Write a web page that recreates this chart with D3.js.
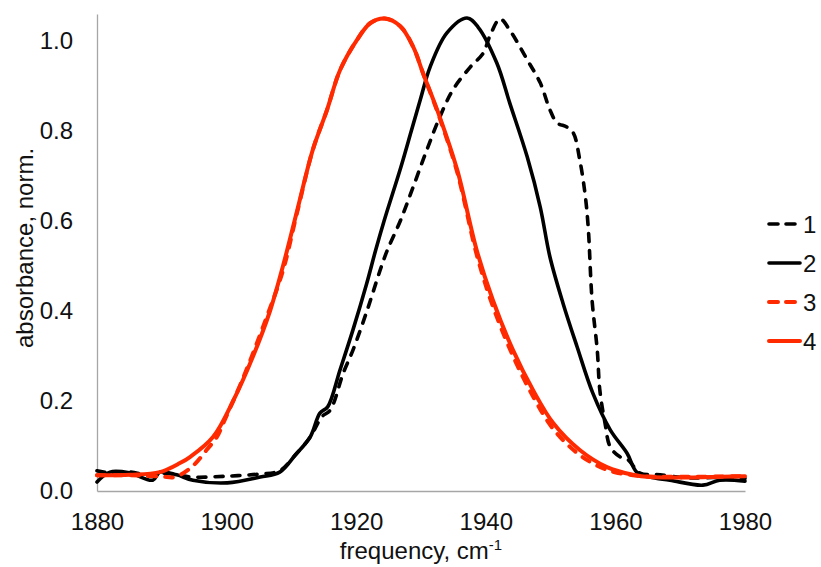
<!DOCTYPE html>
<html>
<head>
<meta charset="utf-8">
<script src="https://cdn.jsdelivr.net/npm/d3@7"></script>
<style>
  html, body { margin: 0; padding: 0; background: #fff; }
  svg { display: block; }
  text { font-family: "Liberation Sans", Arial, sans-serif; fill: #111; }
</style>
</head>
<body>
<svg id="chart" width="821" height="567"></svg>
<script>
// ---- data (frequency cm-1, normalized absorbance) ----
const series1 = [ // black dashed
  [1880,0.045],[1882,0.040],[1885.1,0.042],[1888.2,0.035],[1889.7,0.040],[1892.3,0.036],
  [1894.8,0.031],[1900.1,0.033],[1905.2,0.038],[1908.2,0.045],[1910.6,0.080],[1912.9,0.120],
  [1914.7,0.165],[1916.0,0.180],[1918.0,0.262],[1919.5,0.313],[1921.7,0.402],[1923.7,0.491],
  [1924.8,0.535],[1926.8,0.600],[1928.8,0.676],[1930.9,0.758],[1932.9,0.831],[1934.9,0.891],
  [1937.6,0.942],[1939.6,0.973],[1940.6,1.010],[1942.2,1.049],[1943.7,1.024],[1946.4,0.958],
  [1948.4,0.907],[1949.9,0.847],[1951.0,0.818],[1952.5,0.809],[1953.5,0.796],[1954.5,0.736],
  [1955.3,0.662],[1955.8,0.587],[1956.4,0.424],[1957.2,0.313],[1957.6,0.224],[1958.4,0.151],
  [1959.2,0.098],[1960.7,0.076],[1961.9,0.070],[1963.8,0.040],[1966.9,0.036],[1971.0,0.029],
  [1975.1,0.030],[1980,0.028]
];
const series2 = [ // black solid
  [1880,0.020],[1882,0.042],[1885.1,0.040],[1888.6,0.024],[1889.7,0.042],[1892.3,0.036],
  [1894.8,0.024],[1900.1,0.018],[1905.2,0.031],[1908.2,0.042],[1910.6,0.080],[1912.9,0.120],
  [1914.4,0.173],[1915.6,0.187],[1917.5,0.269],[1919.5,0.358],[1921.6,0.460],[1923.0,0.535],
  [1924.3,0.600],[1926.9,0.720],[1928.5,0.800],[1929.9,0.870],[1931.4,0.942],[1934.0,1.018],
  [1937.1,1.051],[1938.8,1.031],
  [1941.7,0.951],[1943.7,0.862],[1946.4,0.742],[1948.4,0.631],[1949.9,0.520],[1951.9,0.418],
  [1954.1,0.320],[1956.5,0.218],[1959.2,0.136],[1961.8,0.084],[1963.3,0.042],[1965.3,0.031],
  [1968.4,0.024],[1973.5,0.013],[1976.1,0.024],[1980,0.022]
];
const series3 = [ // red dashed
  [1880,0.035],[1885,0.035],[1890,0.032],[1892,0.031],[1894.6,0.053],[1896.9,0.091],
  [1898.5,0.120],[1899.5,0.151],[1902.6,0.253],[1906.2,0.387],[1908.7,0.490],[1910.9,0.620],
  [1913.3,0.758],[1915.5,0.847],[1917.5,0.935],[1920.1,1.002],[1922.2,1.040],[1924.4,1.050],
  [1926.8,1.033],[1928.8,0.987],[1930.3,0.929],[1932.9,0.828],[1935.6,0.708],[1938.6,0.525],
  [1941.1,0.410],[1944.2,0.300],[1947.3,0.210],[1950.4,0.138],[1954.5,0.080],[1958.7,0.047],
  [1962.7,0.035],[1965.3,0.032],[1980,0.033]
];
const series4 = [ // red solid
  [1880,0.035],[1885.1,0.036],[1889.7,0.042],[1892.8,0.062],[1894.4,0.076],[1897.9,0.120],
  [1901.0,0.200],[1904.1,0.300],[1906.7,0.400],[1908.7,0.500],[1910.9,0.624],[1913.3,0.758],
  [1915.5,0.847],[1917.5,0.935],[1920.1,1.002],[1922.2,1.040],[1924.4,1.050],[1926.8,1.033],
  [1928.8,0.987],[1930.3,0.929],[1932.9,0.831],[1935.6,0.713],[1938.6,0.535],[1941.1,0.424],
  [1944.2,0.313],[1947.3,0.224],[1950.4,0.151],[1954.5,0.091],[1958.7,0.053],[1962.7,0.036],
  [1965.3,0.031],[1980,0.033]
];
const seriesNames = ["1","2","3","4"];
const xTicks = [1880,1900,1920,1940,1960,1980];
const yTicks = [0,0.2,0.4,0.6,0.8,1.0];

const allSeries = [series1, series2, series3, series4];
const colors = ["#000000","#000000","#ff2a00","#ff2a00"];
const dashed = [true,false,true,false];
const widths = [3.6,3.6,4,4];

const svg = d3.select("#chart");
const mLeft = 97, mRight = 745, mTop = 14, mBottom = 491;

const x = d3.scaleLinear().domain([1880,1980]).range([mLeft,mRight]);
const y = d3.scaleLinear().domain([0,1.06]).range([mBottom,mTop]);

// axes
const gx = svg.append("g").attr("transform",`translate(0,${mBottom})`)
  .call(d3.axisBottom(x).tickValues(xTicks).tickFormat(d3.format("d")).tickSize(0).tickSizeOuter(0).tickPadding(22));
const gy = svg.append("g").attr("transform",`translate(${mLeft},0)`)
  .call(d3.axisLeft(y).tickValues(yTicks).tickFormat(d3.format(".1f")).tickSize(0).tickSizeOuter(0).tickPadding(24));
[gx,gy].forEach(g => {
  g.select(".domain").attr("stroke","#a6a6a6").attr("stroke-width",1.3);
  g.selectAll("text").attr("font-size",24).attr("fill","#111")
   .style("font-family",'"Liberation Sans", Arial, sans-serif');
});

// lines
const line = d3.line().x(d => x(d[0])).y(d => y(d[1])).curve(d3.curveCatmullRom.alpha(0.5));
allSeries.forEach((s,i) => {
  svg.append("path").datum(s)
    .attr("d", line)
    .attr("fill","none")
    .attr("stroke", colors[i])
    .attr("stroke-width", widths[i])
    .attr("stroke-linecap","round")
    .attr("stroke-linejoin","round")
    .attr("stroke-dasharray", dashed[i] ? "8,9" : null);
});

// axis titles
svg.append("text")
  .attr("x", 421).attr("y", 559)
  .attr("text-anchor","middle").attr("font-size",24)
  .html('frequency, cm<tspan font-size="15" dy="-9">-1</tspan>');
svg.append("text")
  .attr("transform","translate(33,248) rotate(-90)")
  .attr("text-anchor","middle").attr("font-size",24)
  .text("absorbance, norm.");

// legend
const lg = svg.append("g");
seriesNames.forEach((n,i) => {
  const yy = 224 + i*39;
  lg.append("line")
    .attr("x1",769).attr("x2",800).attr("y1",yy).attr("y2",yy)
    .attr("stroke",colors[i]).attr("stroke-width",widths[i])
    .attr("stroke-linecap","round")
    .attr("stroke-dasharray", dashed[i] ? "9,8" : null);
  lg.append("text").attr("x",803).attr("y",yy).attr("dy","0.36em")
    .attr("font-size",24).text(n);
});
</script>
</body>
</html>
